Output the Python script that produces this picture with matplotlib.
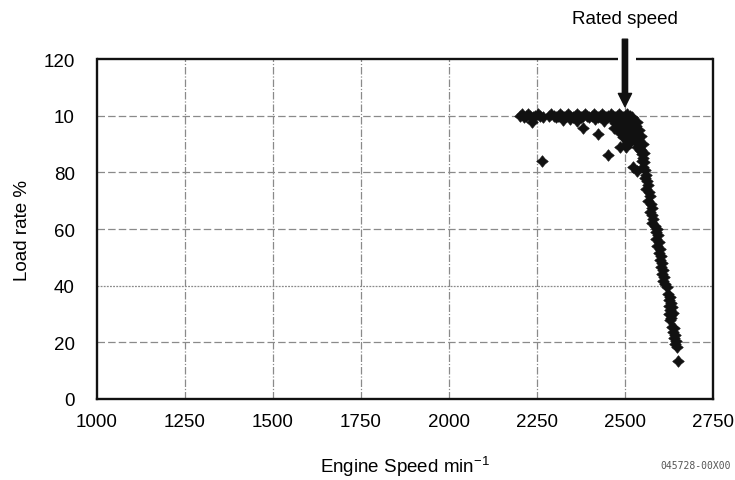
import matplotlib
matplotlib.use("Agg")
import matplotlib.pyplot as plt
from matplotlib.path import Path

plt.rcParams['font.family'] = ['Liberation Sans', 'DejaVu Sans']

# Plateau at full load
plateau_rpm = [2201, 2207, 2213, 2219, 2225, 2231, 2238, 2245, 2252, 2259, 2266,
               2285, 2291, 2297, 2303, 2309, 2315, 2321, 2327, 2333, 2339, 2345,
               2351, 2357, 2363, 2369, 2375, 2381, 2387, 2393, 2399, 2405, 2411,
               2417, 2423, 2429, 2435, 2441, 2447, 2453, 2459, 2465, 2471, 2477,
               2483, 2489, 2495, 2501, 2507, 2513, 2519]
plateau_load = [100, 100.5, 99.5, 100, 100.5, 100, 99.5, 100, 100.5, 100, 99.5,
                100, 100.5, 100, 99.5, 100, 100.5, 100, 99.5, 100, 100.5, 100,
                99.5, 100, 100.5, 100, 99.5, 100, 100.5, 100, 99.5, 100, 100.5,
                100, 99.5, 100, 100.5, 100, 99.5, 100, 100.5, 100, 99.5, 100,
                100.5, 100, 99.5, 100, 100.5, 100, 99.5]

# Scattered points below the plateau and around the knee
knee_rpm = [2235, 2325, 2363, 2382, 2424, 2263, 2453, 2487, 2504, 2533, 2522, 2535,
            2440, 2415, 2345, 2465, 2472, 2480, 2488, 2495, 2502, 2510, 2516, 2478,
            2490, 2500, 2508, 2515, 2495, 2505, 2512, 2485, 2470,
            2476, 2483, 2492, 2498, 2506, 2513, 2520, 2500, 2510, 2518, 2503]
knee_load = [97.9, 98.6, 98.2, 95.5, 93.5, 84.1, 86.0, 88.8, 88.8, 97.6, 81.8, 80.6,
             98.0, 99.0, 99.0, 98.5, 97.5, 98.0, 97.0, 96.5, 97.5, 98.0, 96.0, 96.0,
             95.0, 94.5, 95.0, 93.5, 92.5, 91.5, 90.5, 94.0, 95.5,
             99.0, 96.5, 98.5, 95.5, 96.0, 99.0, 98.5, 93.0, 93.0, 91.5, 90.0]

# Governor droop above rated speed
droop_rpm = [2525, 2530, 2534, 2538, 2542, 2546, 2549, 2552, 2555, 2551, 2557, 2560,
             2556, 2562, 2565, 2561, 2567, 2570, 2566, 2573, 2576, 2571, 2578, 2581,
             2577, 2584, 2590, 2587, 2593, 2589, 2596, 2592, 2599, 2596, 2602, 2599,
             2605, 2602, 2608, 2605, 2611, 2609, 2615, 2619,
             2622, 2628, 2624, 2632, 2626, 2634, 2628, 2636, 2630, 2624, 2632, 2627,
             2634, 2640, 2636, 2642, 2638, 2646, 2642, 2648, 2650,
             2532, 2540, 2537, 2545, 2543, 2550, 2547, 2554, 2528, 2535]
droop_load = [96, 94, 92.5, 91, 89.5, 88, 86.5, 85, 83.5, 82, 81, 79,
              78, 77, 75.5, 74, 73, 71.5, 70, 69, 67.5, 66, 65, 63.5,
              62, 61, 60, 59, 58, 56.5, 55.5, 54, 53, 51.5, 50.5, 49,
              48, 46.5, 45.5, 44, 43, 41.5, 40.5, 39.5,
              37, 36, 35, 34, 33, 32.5, 31.5, 30.5, 29.5, 30, 28.5, 28,
              25.5, 25, 23.5, 22.5, 21.5, 20.5, 19.5, 18.5, 13.5,
              96.5, 95, 92, 93, 88, 90, 84, 87, 91, 89]

x_ticks = [1000, 1250, 1500, 1750, 2000, 2250, 2500, 2750]
y_ticks = [0, 20, 40, 60, 80, 100, 120]
y_tick_labels = ['0', '20', '40', '60', '80', '10', '120']
rated_speed = 2500

# Four-pointed star marker
star = Path([(0, 1), (0.45, 0.45), (1, 0), (0.45, -0.45), (0, -1),
             (-0.45, -0.45), (-1, 0), (-0.45, 0.45), (0, 1)],
            [Path.MOVETO] + [Path.LINETO] * 7 + [Path.CLOSEPOLY])

fig = plt.figure(figsize=(7.35, 4.81), dpi=100)
ax = fig.add_axes([0.132, 0.1684, 0.838, 0.7068])

ax.set_xlim(1000, 2750)
ax.set_ylim(0, 120)

# Grid lines
for y in y_ticks[1:-1]:
    ls = (0, (1.5, 1)) if y == 40 else (0, (6, 2.5))
    ax.axhline(y, color='#8a8a8a', lw=0.9, ls=ls, zorder=1)
for x in x_ticks[1:-1]:
    ax.axvline(x, color='#8a8a8a', lw=0.9, ls=(0, (6, 1.5, 1, 1.5)), zorder=1)

for xs, ys in [(plateau_rpm, plateau_load), (knee_rpm, knee_load), (droop_rpm, droop_load)]:
    ax.plot(xs, ys, ls='none', marker=star, markersize=8.3, color='#111111',
            markeredgewidth=0.5, zorder=3)

ax.set_xticks(x_ticks)
ax.set_yticks(y_ticks)
ax.set_yticklabels(y_tick_labels)
ax.tick_params(axis='both', length=0, labelsize=13.5)
ax.tick_params(axis='y', pad=16)
ax.tick_params(axis='x', pad=10)

for side in ['left', 'right', 'bottom']:
    ax.spines[side].set_linewidth(1.7)
    ax.spines[side].set_color('#111111')
ax.spines['top'].set_visible(False)

# Top frame broken where the arrow passes through
ax.plot([1000, 2480], [120, 120], color='#111111', lw=1.7, clip_on=False, zorder=4,
        solid_capstyle='butt')
ax.plot([2530, 2750], [120, 120], color='#111111', lw=1.7, clip_on=False, zorder=4,
        solid_capstyle='butt')

ax.annotate('', xy=(rated_speed, 103.2), xytext=(rated_speed, 127),
            arrowprops=dict(arrowstyle='simple,head_width=0.95,head_length=0.95,tail_width=0.38',
                            color='#111111', shrinkA=0, shrinkB=0),
            annotation_clip=False, zorder=5)
ax.text(rated_speed, 134.2, 'Rated speed', ha='center', va='center', fontsize=13.5,
        clip_on=False)

ax.set_ylabel('Load rate %', fontsize=13.5, labelpad=9)
ax.set_xlabel('Engine Speed min$^{\\mathregular{-1}}$', fontsize=13.5, labelpad=17)

fig.text(0.995, 0.02, '045728-00X00', ha='right', va='bottom', fontsize=7,
         family='DejaVu Sans Mono', color='#555555')

fig.savefig('out.png', dpi=100)
